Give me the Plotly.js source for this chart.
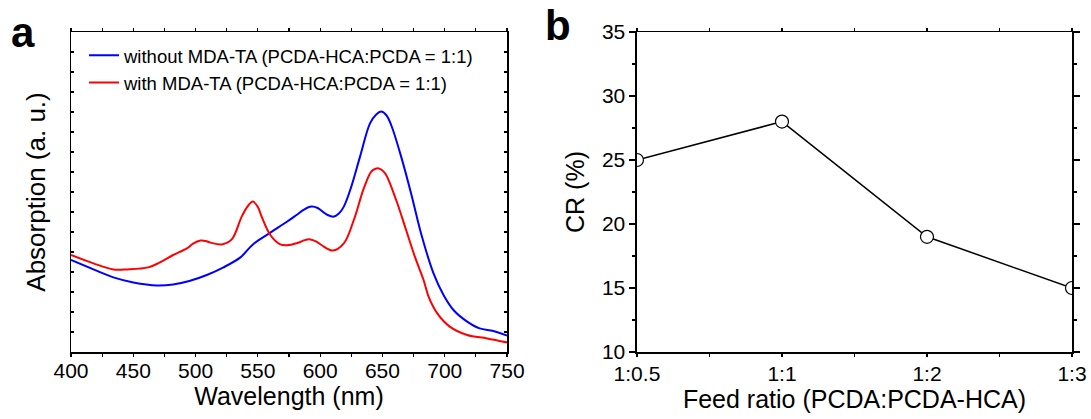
<!DOCTYPE html>
<html>
<head>
<meta charset="utf-8">
<script src="https://cdn.plot.ly/plotly-3.0.1.min.js"></script>
<style>html,body{margin:0;padding:0;background:#fff;}#chart{width:1091px;height:419px;}</style>
</head>
<body>
<div id="chart"></div>
<script>
// Panel a: absorption spectra (arbitrary units)
const blueWavelength = [400,418,434,450,469,482,495,509,522,536,546,560,573,581,587,593,598,602,606,611,615,619,625,632,640,645,649,653,657,665,673,681,691,699,707,718,728,739,750];
const blueAbsorption = [4.6,4.13,3.73,3.48,3.33,3.38,3.55,3.85,4.22,4.73,5.38,5.97,6.5,6.85,7.12,7.27,7.2,7.02,6.85,6.77,6.92,7.27,8.27,9.77,11.43,11.88,12.02,11.85,11.35,9.77,7.93,5.93,3.93,2.85,2.1,1.52,1.18,1.05,0.82];
const redWavelength = [400,418,434,445,462,471,482,493,498,504,508,512,521,529,537,542,546,550,553,560,568,575,584,587,592,597,601,610,619,627,635,641,644,647,650,653,661,669,676,683,687,694,704,718,734,750];
const redAbsorption = [4.85,4.43,4.13,4.13,4.23,4.47,4.85,5.18,5.42,5.57,5.55,5.47,5.38,5.63,6.77,7.3,7.52,7.25,6.77,5.85,5.38,5.35,5.5,5.58,5.63,5.52,5.35,5.07,5.43,6.6,8.18,9.02,9.15,9.18,9.08,8.85,7.6,6.1,4.77,3.6,2.77,1.93,1.27,0.85,0.68,0.48];
const blueName = "without MDA-TA (PCDA-HCA:PCDA = 1:1)";
const redName = "with MDA-TA (PCDA-HCA:PCDA = 1:1)";

// Panel b: CR vs feed ratio
const feedRatioLabels = ["1:0.5","1:1","1:2","1:3"];
const feedRatioIndex = [0,1,2,3];
const crValues = [25,28,19,15];

const FONT = "Liberation Sans, Arial, sans-serif";

const traces = [
  {x: blueWavelength, y: blueAbsorption, type: "scatter", mode: "lines", name: blueName,
   line: {color: "#0000ff", width: 2, shape: "spline", smoothing: 1}, xaxis: "x", yaxis: "y"},
  {x: redWavelength, y: redAbsorption, type: "scatter", mode: "lines", name: redName,
   line: {color: "#ff0000", width: 2, shape: "spline", smoothing: 1}, xaxis: "x", yaxis: "y"},
  {x: feedRatioIndex, y: crValues, type: "scatter", mode: "lines+markers", showlegend: false,
   line: {color: "#000", width: 1.5},
   marker: {symbol: "circle", size: 13, color: "#fff", line: {color: "#000", width: 1.2}},
   cliponaxis: true, xaxis: "x2", yaxis: "y2"}
];

const axisCommon = {
  showline: true, linecolor: "#000", linewidth: 1.5, mirror: "allticks",
  showgrid: false, zeroline: false, tickcolor: "#000", tickwidth: 1.2,
  tickfont: {family: FONT, size: 21, color: "#000"}
};

const layout = {
  width: 1091, height: 419,
  margin: {l: 71, r: 19, t: 32, b: 67},
  paper_bgcolor: "#fff", plot_bgcolor: "#fff",
  font: {family: FONT, color: "#000"},
  showlegend: true,
  legend: {x: 0.013, y: 0.985, xanchor: "left", yanchor: "top", bgcolor: "rgba(0,0,0,0)",
           font: {family: FONT, size: 18.5, color: "#000"}, tracegroupgap: 0},
  xaxis: Object.assign({}, axisCommon, {
    domain: [0, 0.4356], range: [400, 750], dtick: 50, tick0: 400,
    ticks: "outside", ticklen: 3, ticklabelstandoff: -4,
    minor: {dtick: 25, ticks: "outside", ticklen: 3, tickcolor: "#000"},
    title: {text: "Wavelength (nm)", font: {family: FONT, size: 25, color: "#000"}, standoff: 4},
    anchor: "y"
  }),
  yaxis: Object.assign({}, axisCommon, {
    domain: [0, 1], range: [0, 16], dtick: 1, tick0: 0,
    ticks: "inside", ticklen: 3, showticklabels: false,
    title: {text: "Absorption (a. u.)", font: {family: FONT, size: 26, color: "#000"}, standoff: 16},
    anchor: "x"
  }),
  xaxis2: Object.assign({}, axisCommon, {
    domain: [0.5654, 1], range: [0, 3],
    tickvals: feedRatioIndex, ticktext: feedRatioLabels,
    ticks: "outside", ticklen: 3, ticklabelstandoff: -1,
    minor: {dtick: 0.5, tick0: 0, ticks: "outside", ticklen: 3, tickcolor: "#000"},
    title: {text: "Feed ratio (PCDA:PCDA-HCA)", font: {family: FONT, size: 25, color: "#000"}, standoff: 2},
    anchor: "y2"
  }),
  yaxis2: Object.assign({}, axisCommon, {
    domain: [0, 1], range: [10, 35], dtick: 5, tick0: 10,
    ticks: "outside", ticklen: 6,
    minor: {dtick: 2.5, ticks: "outside", ticklen: 3, tickcolor: "#000"},
    title: {text: "CR (%)", font: {family: FONT, size: 25, color: "#000"}, standoff: 10},
    anchor: "x2"
  }),
  annotations: [
    {text: "<b>a</b>", xref: "paper", yref: "paper", x: -0.062, y: 1.0, xanchor: "left", yanchor: "middle",
     showarrow: false, font: {family: FONT, size: 42, color: "#000"}},
    {text: "<b>b</b>", xref: "paper", yref: "paper", x: 0.472, y: 1.02, xanchor: "left", yanchor: "middle",
     showarrow: false, font: {family: FONT, size: 42, color: "#000"}}
  ]
};

Plotly.newPlot("chart", traces, layout, {displayModeBar: false, staticPlot: true});
</script>
</body>
</html>
